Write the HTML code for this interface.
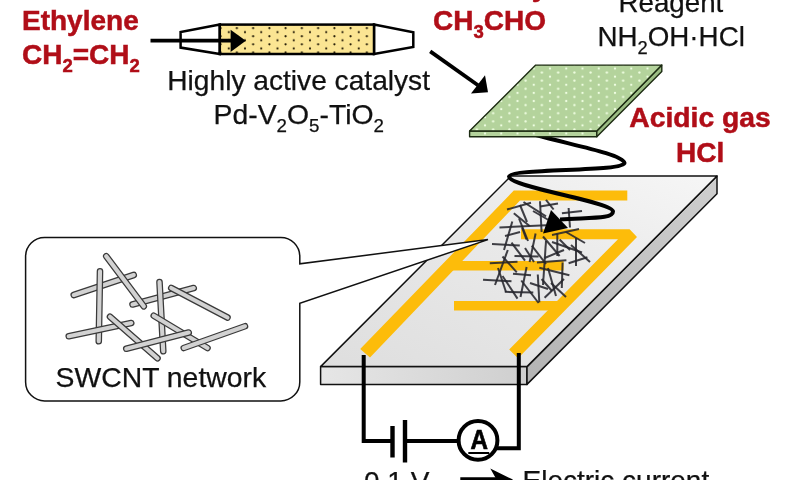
<!DOCTYPE html>
<html><head><meta charset="utf-8"><title>SWCNT ethylene sensor</title>
<style>html,body{margin:0;padding:0;background:#fff;}svg{display:block;will-change:transform;font-family:"Liberation Sans",sans-serif;}</style>
</head><body>
<svg width="799" height="480" viewBox="0 0 799 480">
<defs>
<pattern id="yd" x="228.75" y="27.9" width="16.25" height="8.125" patternUnits="userSpaceOnUse"><rect width="16.25" height="8.125" fill="#fbe593"/><circle cx="8.125" cy="0.2" r="1.05" fill="#1a1200"/><circle cx="8.125" cy="8.325" r="1.05" fill="#1a1200"/><circle cx="0" cy="4.26" r="1.05" fill="#1a1200"/><circle cx="16.25" cy="4.26" r="1.05" fill="#1a1200"/></pattern>
<pattern id="gd" x="517.5" y="101" width="16.25" height="8.125" patternUnits="userSpaceOnUse"><rect width="16.25" height="8.125" fill="#b4d39c"/><circle cx="0" cy="0" r="1.15" fill="#f0ffe2"/><circle cx="16.25" cy="0" r="1.15" fill="#f0ffe2"/><circle cx="0" cy="8.125" r="1.15" fill="#f0ffe2"/><circle cx="16.25" cy="8.125" r="1.15" fill="#f0ffe2"/><circle cx="8.125" cy="4.06" r="1.15" fill="#f0ffe2"/></pattern>
<linearGradient id="pg" x1="0" y1="1" x2="1" y2="0"><stop offset="0" stop-color="#dedede"/><stop offset="0.55" stop-color="#e9e9e9"/><stop offset="1" stop-color="#f6f6f6"/></linearGradient>
<linearGradient id="fg" x1="0" y1="0" x2="1" y2="0"><stop offset="0" stop-color="#e6e6e6"/><stop offset="1" stop-color="#cfcfcf"/></linearGradient>
<linearGradient id="rg" x1="0" y1="1" x2="1" y2="0"><stop offset="0" stop-color="#b4b4b4"/><stop offset="1" stop-color="#cecece"/></linearGradient>
</defs>
<rect width="799" height="480" fill="#fff"/>
<g stroke="#000" stroke-width="2.5" stroke-linejoin="miter">
<polygon points="219.8,24.6 180.6,32 180.6,47.6 219.8,54" fill="#fff"/>
<polygon points="374,24.6 413.3,32.3 413.3,46.9 374,54" fill="#fff"/>
<rect x="219.8" y="24.6" width="154.2" height="29.4" fill="url(#yd)"/>
</g>
<line x1="150.5" y1="40.6" x2="233" y2="40.6" stroke="#000" stroke-width="3.6"/>
<polygon points="245.8,40.8 230.6,29.7 230.6,51.9" fill="#000"/>
<line x1="430.2" y1="51.4" x2="478" y2="85.2" stroke="#000" stroke-width="3.8"/>
<polygon points="488,92.2 485,75.2 471,93.4" fill="#000"/>
<text x="22" y="30.1" font-size="28" font-weight="bold" fill="#b00e18" text-anchor="start" stroke="#b00e18" stroke-width="0.5">Ethylene</text>
<text x="22" y="64" font-size="28" font-weight="bold" fill="#b00e18" text-anchor="start" stroke="#b00e18" stroke-width="0.5">CH<tspan font-size="18.5" dy="8">2</tspan><tspan dy="-8">=CH</tspan><tspan font-size="18.5" dy="8">2</tspan></text>
<text x="433" y="30.1" font-size="28" font-weight="bold" fill="#b00e18" text-anchor="start" stroke="#b00e18" stroke-width="0.5">CH<tspan font-size="18.5" dy="8">3</tspan><tspan dy="-8">CHO</tspan></text>
<text x="489" y="-4" font-size="28" font-weight="bold" fill="#b00e18" text-anchor="middle" stroke="#b00e18" stroke-width="0.5">Acetaldehyde</text>
<text x="167.3" y="90.1" font-size="28" fill="#111" text-anchor="start" stroke="#111" stroke-width="0.25" textLength="262.7" lengthAdjust="spacingAndGlyphs">Highly active catalyst</text>
<text x="213.6" y="124" font-size="28" fill="#111" text-anchor="start" stroke="#111" stroke-width="0.25" textLength="170.4" lengthAdjust="spacingAndGlyphs">Pd-V<tspan font-size="18.5" dy="8">2</tspan><tspan dy="-8">O</tspan><tspan font-size="18.5" dy="8">5</tspan><tspan dy="-8">-TiO</tspan><tspan font-size="18.5" dy="8">2</tspan></text>
<text x="618.5" y="11.8" font-size="28" fill="#111" text-anchor="start" stroke="#111" stroke-width="0.25" textLength="104.8" lengthAdjust="spacingAndGlyphs">Reagent</text>
<text x="597.4" y="46.2" font-size="28" fill="#111" text-anchor="start" stroke="#111" stroke-width="0.25" textLength="147.5" lengthAdjust="spacingAndGlyphs">NH<tspan font-size="18.5" dy="8">2</tspan><tspan dy="-8">OH·HCl</tspan></text>
<text x="629.3" y="127.2" font-size="28" font-weight="bold" fill="#b00e18" text-anchor="start" stroke="#b00e18" stroke-width="0.5" textLength="141.4" lengthAdjust="spacingAndGlyphs">Acidic gas</text>
<text x="676" y="161.6" font-size="28" font-weight="bold" fill="#b00e18" text-anchor="start" stroke="#b00e18" stroke-width="0.5">HCl</text>
<g stroke="#111" stroke-width="1.5" stroke-linejoin="round">
<polygon points="320.6,366.6 527,366.6 527,384.4 320.6,384.4" fill="url(#fg)"/>
<polygon points="527,366.6 717,176 717,193.8 527,384.4" fill="url(#rg)"/>
<polygon points="511,176 717,176 527,366.6 320.6,366.6" fill="url(#pg)"/>
</g>
<g fill="none" stroke="#fdbc0a" stroke-width="10">
<polygon points="627.3,190.6 513.75,190.6 360.2,349 370,357.5 520,200.6 627.3,200.6" fill="#fdbc0a" stroke="none"/>
<line x1="449" y1="265.8" x2="563.6" y2="265.8" stroke-width="9.6"/>
<polygon points="521,229.2 629.6,229.2 637,237 518,358.2 509.2,349.4 618,239.2 521,239.2" fill="#fdbc0a" stroke="none"/>
<line x1="454" y1="305.8" x2="563" y2="305.8" stroke-width="9.4"/>
</g>
<g stroke="#26262c" stroke-width="2" stroke-opacity="0.88" stroke-linecap="butt">
<line x1="507" y1="209.5" x2="531" y2="202.8"/>
<line x1="540" y1="206.5" x2="558" y2="203.5"/>
<line x1="523.5" y1="202" x2="546" y2="216.3"/>
<line x1="546" y1="199.8" x2="553.6" y2="209.5"/>
<line x1="540" y1="201.3" x2="541.6" y2="232"/>
<line x1="513.8" y1="213.3" x2="529.6" y2="226"/>
<line x1="512.3" y1="221.5" x2="504" y2="250"/>
<line x1="499.5" y1="227.5" x2="546" y2="225.3"/>
<line x1="519" y1="218.5" x2="528" y2="241"/>
<line x1="561.9" y1="213.3" x2="582" y2="211"/>
<line x1="568.6" y1="208" x2="570" y2="227.5"/>
<line x1="492" y1="244" x2="519.8" y2="245.6"/>
<line x1="511.5" y1="242.6" x2="525" y2="260.6"/>
<line x1="507.8" y1="250" x2="495" y2="285"/>
<line x1="514.5" y1="256" x2="538.6" y2="256.6"/>
<line x1="531.8" y1="245.6" x2="546" y2="264"/>
<line x1="535.6" y1="233.5" x2="529.6" y2="262"/>
<line x1="546" y1="241" x2="543" y2="285"/>
<line x1="543" y1="236.5" x2="559.6" y2="256"/>
<line x1="552" y1="242" x2="582" y2="252.5"/>
<line x1="557.3" y1="233.5" x2="557.3" y2="256"/>
<line x1="544.6" y1="258" x2="564" y2="250"/>
<line x1="576" y1="238" x2="576" y2="266"/>
<line x1="552" y1="235" x2="579" y2="229"/>
<line x1="568.6" y1="263.3" x2="587.4" y2="257.3"/>
<line x1="559.6" y1="239.5" x2="570" y2="250"/>
<line x1="522" y1="227.5" x2="526.5" y2="239.5"/>
<line x1="502.5" y1="256.5" x2="516.8" y2="272.3"/>
<line x1="489.8" y1="263.3" x2="517.5" y2="261.8"/>
<line x1="483" y1="279.8" x2="511.5" y2="281.3"/>
<line x1="502.5" y1="276" x2="517.5" y2="298.6"/>
<line x1="504.8" y1="291.8" x2="533.3" y2="292.6"/>
<line x1="526.6" y1="267" x2="520.5" y2="297"/>
<line x1="513" y1="273.8" x2="531" y2="275.3"/>
<line x1="521.3" y1="280.5" x2="538.6" y2="303"/>
<line x1="537" y1="262.5" x2="566.4" y2="260.3"/>
<line x1="539.3" y1="267.8" x2="569.4" y2="275.3"/>
<line x1="562.6" y1="262.5" x2="561.8" y2="288"/>
<line x1="544.6" y1="297.8" x2="564" y2="279"/>
<line x1="537.8" y1="274.5" x2="539.3" y2="302.3"/>
<line x1="541.6" y1="279" x2="552" y2="291"/>
<line x1="548" y1="268" x2="556" y2="296"/>
<line x1="525" y1="248" x2="534" y2="262"/>
<line x1="498" y1="268" x2="506" y2="292"/>
<line x1="551" y1="283" x2="566" y2="297"/>
<line x1="530" y1="283" x2="548" y2="289"/>
<line x1="566" y1="232" x2="585" y2="243"/>
<line x1="520" y1="205" x2="527" y2="222"/>
<line x1="533" y1="211" x2="552" y2="222"/>
<line x1="505" y1="236" x2="520" y2="232"/>
<line x1="571" y1="245" x2="590" y2="262"/>
</g>
<path d="M536,135 C572,145 622,154 624.5,163 C625,172 509,168 509,176.6 C509,187 613,202 613,211.5 C613,219 592,217.5 560,219.5" fill="none" stroke="#000" stroke-width="4" stroke-linecap="butt"/>
<polygon points="543,233.6 551,210 568,228" fill="#000"/>
<g stroke="#1c2b12" stroke-width="1.4" stroke-linejoin="round">
<polygon points="469.6,131 596.8,131 596.8,136.8 469.6,136.8" fill="url(#gd)"/>
<polygon points="596.8,131 661.8,65.1 661.8,71.5 596.8,136.8" fill="#9cbd84"/>
<polygon points="535.7,65.1 661.8,65.1 596.8,131 469.6,131" fill="url(#gd)"/>
</g>
<path d="M299.8,263.8 V256.5 A19,19 0 0 0 280.8,237.5 H44.6 A19,19 0 0 0 25.6,256.5 V381.9 A19,19 0 0 0 44.6,400.9 H280.8 A19,19 0 0 0 299.8,381.9 V303.2 L488,239.6 Z" fill="#fff" stroke="#111" stroke-width="1.5" stroke-linejoin="miter"/>
<line x1="73.75" y1="295" x2="133.75" y2="275" stroke="#3a3a3a" stroke-width="6.6" stroke-linecap="round"/>
<line x1="73.75" y1="295" x2="133.75" y2="275" stroke="#d2d2d2" stroke-width="4.1" stroke-linecap="round"/>
<line x1="100" y1="271.25" x2="98.75" y2="341.25" stroke="#3a3a3a" stroke-width="6.6" stroke-linecap="round"/>
<line x1="100" y1="271.25" x2="98.75" y2="341.25" stroke="#d2d2d2" stroke-width="4.1" stroke-linecap="round"/>
<line x1="132.5" y1="304.5" x2="193.75" y2="288" stroke="#3a3a3a" stroke-width="6.6" stroke-linecap="round"/>
<line x1="132.5" y1="304.5" x2="193.75" y2="288" stroke="#d2d2d2" stroke-width="4.1" stroke-linecap="round"/>
<line x1="106.25" y1="256.25" x2="143.75" y2="306.25" stroke="#3a3a3a" stroke-width="6.6" stroke-linecap="round"/>
<line x1="106.25" y1="256.25" x2="143.75" y2="306.25" stroke="#d2d2d2" stroke-width="4.1" stroke-linecap="round"/>
<line x1="159.5" y1="282" x2="163.25" y2="351.25" stroke="#3a3a3a" stroke-width="6.6" stroke-linecap="round"/>
<line x1="159.5" y1="282" x2="163.25" y2="351.25" stroke="#d2d2d2" stroke-width="4.1" stroke-linecap="round"/>
<line x1="171.25" y1="288" x2="227.5" y2="317.5" stroke="#3a3a3a" stroke-width="6.6" stroke-linecap="round"/>
<line x1="171.25" y1="288" x2="227.5" y2="317.5" stroke="#d2d2d2" stroke-width="4.1" stroke-linecap="round"/>
<line x1="68.75" y1="336.25" x2="131.25" y2="323" stroke="#3a3a3a" stroke-width="6.6" stroke-linecap="round"/>
<line x1="68.75" y1="336.25" x2="131.25" y2="323" stroke="#d2d2d2" stroke-width="4.1" stroke-linecap="round"/>
<line x1="110" y1="316.75" x2="157.5" y2="358.25" stroke="#3a3a3a" stroke-width="6.6" stroke-linecap="round"/>
<line x1="110" y1="316.75" x2="157.5" y2="358.25" stroke="#d2d2d2" stroke-width="4.1" stroke-linecap="round"/>
<line x1="153.75" y1="315.75" x2="207.5" y2="348" stroke="#3a3a3a" stroke-width="6.6" stroke-linecap="round"/>
<line x1="153.75" y1="315.75" x2="207.5" y2="348" stroke="#d2d2d2" stroke-width="4.1" stroke-linecap="round"/>
<line x1="126.25" y1="348.75" x2="188.75" y2="332.5" stroke="#3a3a3a" stroke-width="6.6" stroke-linecap="round"/>
<line x1="126.25" y1="348.75" x2="188.75" y2="332.5" stroke="#d2d2d2" stroke-width="4.1" stroke-linecap="round"/>
<line x1="183.75" y1="348" x2="245" y2="326.25" stroke="#3a3a3a" stroke-width="6.6" stroke-linecap="round"/>
<line x1="183.75" y1="348" x2="245" y2="326.25" stroke="#d2d2d2" stroke-width="4.1" stroke-linecap="round"/>
<text x="55.6" y="387" font-size="28" fill="#111" text-anchor="start" stroke="#111" stroke-width="0.25" textLength="210.5" lengthAdjust="spacingAndGlyphs">SWCNT network</text>
<g fill="none" stroke="#000" stroke-width="4" stroke-linejoin="miter">
<polyline points="363.7,355 363.7,441 392.5,441"/>
<line x1="392.5" y1="426" x2="392.5" y2="457.5" stroke-width="4.4"/>
<line x1="405" y1="420" x2="405" y2="462.5" stroke-width="4.4"/>
<line x1="405" y1="441" x2="458" y2="441"/>
<circle cx="478" cy="440.4" r="19.4" fill="#fff"/>
<polyline points="497,448.2 518.8,448.2 518.8,353"/>
</g>
<text x="479.2" y="449.2" font-size="28.5" font-weight="bold" fill="#000" text-anchor="middle" stroke="#000" stroke-width="0.7" textLength="17.5" lengthAdjust="spacingAndGlyphs">A</text>
<line x1="468.3" y1="453" x2="489.2" y2="453" stroke="#000" stroke-width="2"/>
<text x="364" y="490.5" font-size="28" fill="#111" text-anchor="start" stroke="#111" stroke-width="0.25">0.1 V</text>
<text x="522.5" y="489.5" font-size="28" fill="#111" text-anchor="start" stroke="#111" stroke-width="0.25">Electric current</text>
<line x1="460.3" y1="479.2" x2="498" y2="479.2" stroke="#000" stroke-width="3.8"/>
<polygon points="513,479.6 490.3,468.6 496.5,479.6 490.3,490.6" fill="#000"/>
</svg></body></html>
